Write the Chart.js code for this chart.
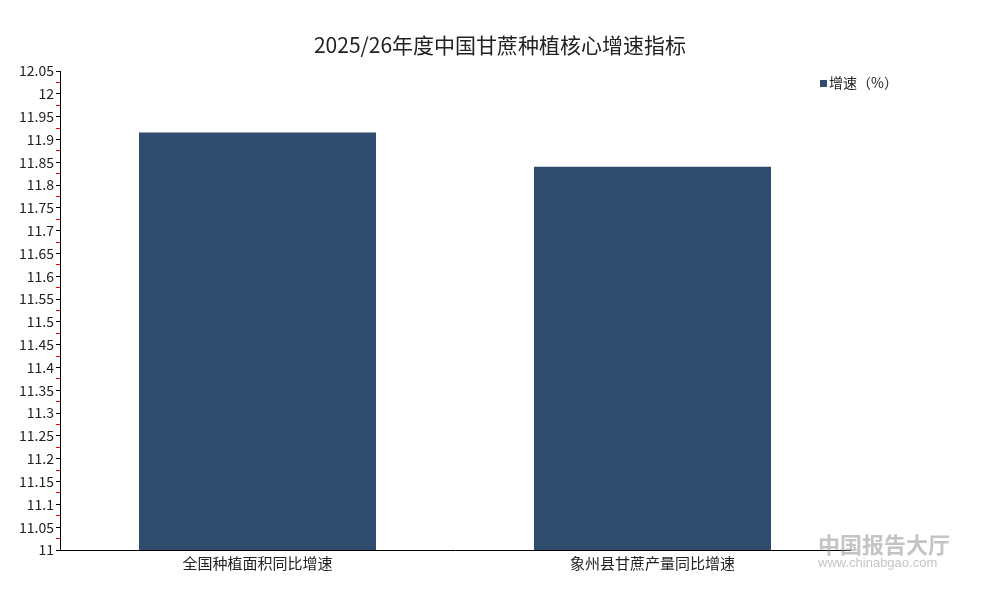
<!DOCTYPE html>
<html>
<head>
<meta charset="utf-8">
<script src="https://cdn.jsdelivr.net/npm/chart.js@4/dist/chart.umd.min.js"></script>
<style>
  html, body { margin: 0; padding: 0; background: #fff; }
  #wrap { width: 1000px; height: 600px; position: relative; }
</style>
</head>
<body>
<div id="wrap"><canvas id="chart" width="1000" height="600"></canvas></div>
<script>
const titleText = '2025/26年度中国甘蔗种植核心增速指标';
const categories = ['全国种植面积同比增速', '象州县甘蔗产量同比增速'];
const seriesName = '增速（%）';
const growthValues = [11.915, 11.84];
const yMin = 11;
const yMax = 12.05;

const barColor = '#2f4b6e';
const textColor = '#222';
const fontFamily = '"Noto Sans CJK SC", "Liberation Sans", sans-serif';

// title, legend and watermark drawn on the canvas (title centred on the page,
// legend sits over the plot at the top right)
const extrasPlugin = {
    id: 'extras',
    afterDraw(chart) {
        const ctx = chart.ctx;
        ctx.save();
        ctx.fillStyle = textColor;
        ctx.font = '21px ' + fontFamily;
        ctx.textAlign = 'center';
        ctx.textBaseline = 'middle';
        ctx.fillText(titleText, 500, 45);

        ctx.fillStyle = barColor;
        ctx.fillRect(820, 80, 7, 7);
        ctx.fillStyle = textColor;
        ctx.font = '14px ' + fontFamily;
        ctx.textAlign = 'left';
        ctx.fillText(seriesName, 829, 83);

        // watermark
        ctx.globalAlpha = 0.5;
        ctx.fillStyle = '#8a8a8a';
        ctx.font = 'bold 22px ' + fontFamily;
        ctx.fillText('中国报告大厅', 818, 545);
        ctx.font = '13px "Liberation Sans", sans-serif';
        ctx.fillText('www.chinabgao.com', 818, 563);
        ctx.restore();
    }
};

new Chart(document.getElementById('chart'), {
    type: 'bar',
    data: {
        labels: categories,
        datasets: [{
            label: seriesName,
            data: growthValues,
            backgroundColor: barColor,
            borderWidth: 0,
            barPercentage: 0.6,
            categoryPercentage: 1.0
        }]
    },
    options: {
        responsive: false,
        animation: false,
        layout: { padding: { top: 71, right: 150, bottom: 0, left: 0 } },
        plugins: {
            legend: { display: false },
            tooltip: { enabled: false },
            title: { display: false }
        },
        scales: {
            x: {
                grid: { display: false, drawTicks: false },
                border: { display: true, color: '#000', width: 1 },
                ticks: { color: textColor, font: { family: fontFamily, size: 15 }, padding: 4 },
                afterFit(scale) { scale.height = 50; }
            },
            y: {
                min: yMin,
                max: yMax,
                grid: {
                    drawOnChartArea: false,
                    drawTicks: true,
                    tickLength: 4,
                    tickColor: (c) => (c.index % 2 === 0 ? '#000' : '#e00'),
                    tickWidth: 1
                },
                border: { display: true, color: '#000', width: 1 },
                ticks: {
                    stepSize: 0.025,
                    autoSkip: false,
                    color: textColor,
                    padding: 2,
                    font: { family: fontFamily, size: 14 },
                    callback: function (value, index) {
                        if (index % 2 !== 0) return '';
                        return parseFloat(value.toFixed(2)).toString();
                    }
                },
                afterFit(scale) { scale.width = 60; }
            }
        }
    },
    plugins: [extrasPlugin]
});
</script>
</body>
</html>
